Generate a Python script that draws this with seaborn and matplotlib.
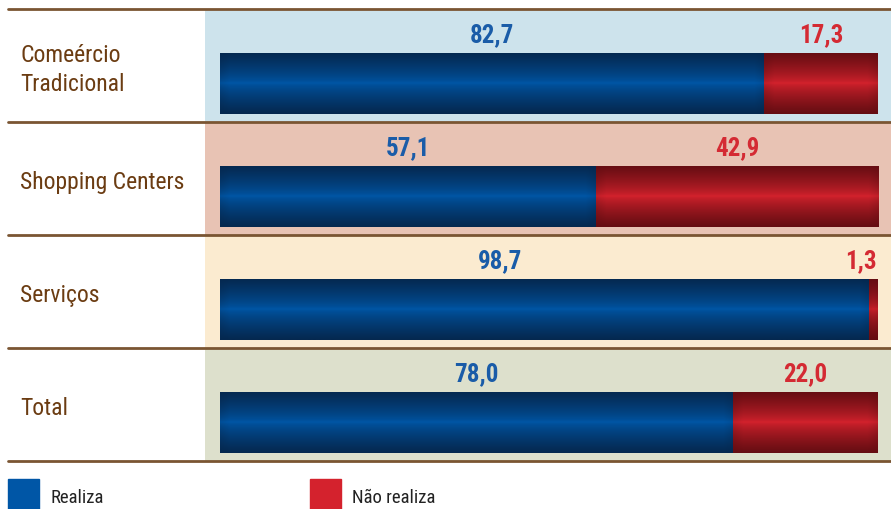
import numpy as np
import pandas as pd
import seaborn as sns
import matplotlib.pyplot as plt
from matplotlib.colors import to_rgb
from matplotlib.patches import Rectangle

categorias = ["Comeércio\nTradicional", "Shopping Centers", "Serviços", "Total"]
realiza = [82.7, 57.1, 98.7, 78.0]
nao_realiza = [17.3, 42.9, 1.3, 22.0]
rotulo_realiza = ["82,7", "57,1", "98,7", "78,0"]
rotulo_nao = ["17,3", "42,9", "1,3", "22,0"]

fundos = ["#cde3ec", "#e8c3b4", "#fbebd0", "#dde0cc"]
azul, azul_esc = "#0056a6", "#05284f"
verm, verm_esc = "#d4222d", "#650d12"
marrom = "#6b3c12"
linha = "#7a5532"

df = pd.DataFrame({"cat": categorias, "realiza": realiza, "nao": nao_realiza})
df["total"] = df["realiza"] + df["nao"]

sns.set_style("white")
plt.rcParams["font.family"] = ["Roboto Condensed", "Archivo Narrow", "DejaVu Sans"]

fig = plt.figure(figsize=(8.91, 5.10), dpi=100)
ax = fig.add_axes([8 / 891, 48 / 510, 883 / 891, 452 / 510])

# barras empilhadas: total em vermelho, realiza em azul por cima
sns.barplot(data=df, x="total", y="cat", color=verm, width=0.54, ax=ax, orient="y",
            linewidth=0)
sns.barplot(data=df, x="realiza", y="cat", color=azul, width=0.54, ax=ax, orient="y",
            linewidth=0)

x0 = -(220 - 8) / 6.58
x1 = (891 - 220) / 6.58
ax.set_xlim(x0, x1)
ax.set_ylim(len(categorias) - 0.66, -0.66)
frac = (205 - 8) / 883

for i, c in enumerate(fundos):
    ax.axhspan(i - 0.66, i + 0.34, xmin=frac, xmax=1, color=c, zorder=0, lw=0)
for i in range(len(categorias) + 1):
    ax.axhline(i - 0.66, color=linha, lw=2, clip_on=False, zorder=5)


def gradiente(c_claro, c_esc, largura_px, altura_px=61):
    ny, nx = altura_px, max(int(largura_px), 2)
    yy = np.abs(np.linspace(-1, 1, ny))[:, None]
    m = yy ** 0.75
    xs = np.arange(nx)
    borda = np.minimum(xs, nx - 1 - xs)
    h = np.clip(1 - borda / 10.0, 0, 1)[None, :] * 0.5
    m = np.clip(m + h * (1 - m) * (0.3 + 0.7 * yy), 0, 1)
    a, b = np.array(to_rgb(c_claro)), np.array(to_rgb(c_esc))
    return a[None, None, :] * (1 - m[..., None]) + b[None, None, :] * m[..., None]


n = len(categorias)
red_patches = ax.patches[:n]
blue_patches = ax.patches[n:]
for i in range(n):
    rp, bp = red_patches[i], blue_patches[i]
    y0 = bp.get_y()
    hgt = bp.get_height()
    b = realiza[i]
    t = b + nao_realiza[i]
    img = gradiente(azul, azul_esc, b * 6.58)
    im = ax.imshow(img, extent=(0, b, y0 + hgt, y0), aspect="auto", zorder=3,
                   interpolation="bilinear")
    im.set_clip_path(bp)
    img = gradiente(verm, verm_esc, (t - b) * 6.58)
    im = ax.imshow(img, extent=(b, t, y0 + hgt, y0), aspect="auto", zorder=3,
                   interpolation="bilinear")
    im.set_clip_path(rp)

    ax.text(min(b / 2, 42.5), y0 - 0.165, rotulo_realiza[i], color="#1a5ca8",
            fontsize=18, fontweight="bold", ha="center", va="center", zorder=6)
    ax.text(min(b + nao_realiza[i] / 2, 97.4), y0 - 0.165, rotulo_nao[i], color="#d42a33",
            fontsize=18, fontweight="bold", ha="center", va="center", zorder=6)

    ax.text(12 / 883, i - 0.13, categorias[i], transform=ax.get_yaxis_transform(),
            color=marrom, fontsize=17, ha="left", va="center", linespacing=1.35)

ax.set_xlabel("")
ax.set_ylabel("")
ax.set_xticks([])
ax.set_yticks([])
sns.despine(ax=ax, left=True, bottom=True)

# legenda
for xp, cor, txt in [(8, azul, "Realiza"), (310, verm, "Não realiza")]:
    fig.patches.append(Rectangle((xp / 891, 0), 31 / 891, 30 / 510, color=cor,
                                 transform=fig.transFigure, figure=fig))
    fig.text((xp + 42) / 891, 12 / 510, txt, fontsize=13.5, color="#222222",
             ha="left", va="center")

fig.savefig("out.png", dpi=100)
